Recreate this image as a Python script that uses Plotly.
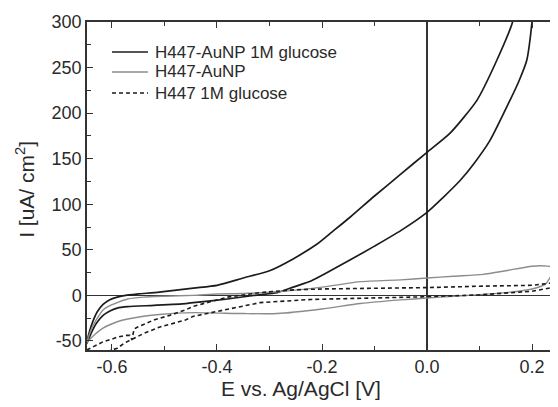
import plotly.graph_objects as go

# --- data (E in V vs Ag/AgCl, I in uA/cm^2) ---
glu_aunp_E = [-0.648, -0.643, -0.636, -0.628, -0.617, -0.605, -0.590, -0.574, -0.550, -0.510,
              -0.445, -0.400, -0.350, -0.300, -0.255, -0.210, -0.180, -0.146, -0.100, -0.050,
              0.000, 0.044, 0.095, 0.133, 0.163, 0.175,
              0.205, 0.200, 0.190, 0.175, 0.158, 0.120, 0.090, 0.063, 0.030, 0.000,
              -0.050, -0.100, -0.146, -0.190, -0.220, -0.255, -0.285, -0.330, -0.380, -0.445,
              -0.460, -0.520, -0.570, -0.590, -0.603, -0.617, -0.630, -0.640, -0.648]
glu_aunp_I = [-53, -40, -28, -18, -10, -5, -2, 0, 1.5, 3.5,
              8, 11, 19, 27, 40, 56, 70, 86, 109, 133,
              157, 178, 214, 258, 300, 340,
              340, 300, 258, 235, 214, 170, 145, 126, 107, 91,
              71, 54, 39, 25, 16, 9, 3, 0, -4, -8,
              -9, -11, -12.5, -14, -17, -22, -31, -42, -53]

aunp_E = [-0.648, -0.640, -0.630, -0.617, -0.603, -0.590, -0.570, -0.540, -0.500, -0.445,
          -0.400, -0.350, -0.285, -0.200, -0.127, -0.050, 0.000, 0.050, 0.107, 0.150,
          0.200, 0.230, 0.244,
          0.235, 0.225, 0.200, 0.150, 0.107, 0.050, 0.000, -0.050, -0.127, -0.200,
          -0.285, -0.350, -0.445, -0.510, -0.540, -0.570, -0.590, -0.603, -0.620, -0.635,
          -0.645, -0.648]
aunp_I = [-52, -38, -27, -16, -11, -8, -4, -2, -1, 0,
          1.5, 2, 4, 9, 15, 17, 19, 21, 23, 27,
          32, 32, 30,
          20, 12, 7, 3, 1, -1, -3, -5, -9, -15,
          -20, -20, -19, -21, -23, -26, -29, -32, -37, -44,
          -50, -52]

glu_E = [-0.648, -0.635, -0.617, -0.600, -0.590, -0.575, -0.566, -0.562, -0.558, -0.552,
         -0.520, -0.490, -0.460, -0.445, -0.407, -0.380, -0.318, -0.255, -0.200, -0.127,
         0.000, 0.100, 0.200, 0.244,
         0.234, 0.200, 0.139, 0.100, 0.000, -0.127, -0.220, -0.318, -0.380, -0.445,
         -0.460, -0.510, -0.540, -0.560, -0.575, -0.590, -0.610]
glu_I = [-60, -56, -51, -48, -46, -44, -44, -49, -37, -35,
         -27, -22, -16, -12, -6, -2, 3, 6, 7, 7.5,
         8.5, 10, 11, 14,
         8, 4.5, 2, 0.5, -1.5, -3, -4.5, -8, -15, -23,
         -27, -35, -42, -48, -52, -58, -62]

series_names = ["H447-AuNP 1M glucose", "H447-AuNP", "H447 1M glucose"]
x_ticks = [-0.6, -0.4, -0.2, 0.0, 0.2]
x_tick_labels = ["-0.6", "-0.4", "-0.2", "0.0", "0.2"]
y_ticks = [-50, 0, 50, 100, 150, 200, 250, 300]
y_tick_labels = ["-50", "0", "50", "100", "150", "200", "250", "300"]

FONT = "Liberation Sans, Arial, sans-serif"
TXT = "#2a2a2a"

styles = [
    dict(color="#1c1c1c", width=1.7, shape="spline", smoothing=0.6),
    dict(color="#8c8c8c", width=1.4, shape="spline", smoothing=0.6),
    dict(color="#1c1c1c", width=1.6, dash="4px,3px", shape="linear"),
]
series = [(glu_aunp_E, glu_aunp_I), (aunp_E, aunp_I), (glu_E, glu_I)]

fig = go.Figure()
for (xs, ys), name, st in zip(series, series_names, styles):
    fig.add_trace(go.Scatter(x=xs, y=ys, mode="lines", name=name, line=st, showlegend=False))

axis_common = dict(showline=True, mirror="ticks", linecolor="#333333", linewidth=1.5,
                   ticks="inside", ticklen=6, tickwidth=1.3, tickcolor="#333333",
                   showgrid=False, zeroline=True, zerolinecolor="#333333",
                   automargin=False,
                   tickfont=dict(family=FONT, size=18, color=TXT))

fig.update_xaxes(range=[-0.6476, 0.2457], tickmode="array", tickvals=x_ticks,
                 ticktext=x_tick_labels, zerolinewidth=1.8,
                 minor=dict(ticks="inside", dtick=0.1, tick0=0, ticklen=4,
                            tickcolor="#333333", tickwidth=1.2),
                 **axis_common)
fig.update_yaxes(range=[-60, 300], tickmode="array", tickvals=y_ticks,
                 ticktext=y_tick_labels, zerolinewidth=1.3,
                 minor=dict(ticks="inside", dtick=25, tick0=0, ticklen=4,
                            tickcolor="#333333", tickwidth=1.2),
                 **axis_common)

# legend (drawn manually to match the compact row spacing of the reference)
leg_rows = [0.9085, 0.8476, 0.7835]
for yy, name, st in zip(leg_rows, series_names, styles):
    fig.add_shape(type="line", xref="paper", yref="paper", x0=0.0533, x1=0.130, y0=yy, y1=yy,
                  line=dict(color=st["color"], width=st["width"], dash=st.get("dash", "solid")))
    fig.add_annotation(text=name, xref="paper", yref="paper", x=0.1407, y=yy,
                       xanchor="left", yanchor="middle", showarrow=False,
                       font=dict(family=FONT, size=17, color=TXT))

fig.add_annotation(text="E vs. Ag/AgCl [V]", xref="paper", yref="paper",
                   x=0.456, y=-0.116, xanchor="center", yanchor="middle", showarrow=False,
                   font=dict(family=FONT, size=21, color=TXT))
fig.add_annotation(text="I [uA/ cm<sup>2</sup>]", xref="paper", yref="paper",
                   x=-0.131, y=0.49, xanchor="center", yanchor="middle", showarrow=False,
                   textangle=-90, font=dict(family=FONT, size=21, color=TXT))

# page body has an 8px default margin; figure is sized so the plot frame lands
# at x 87..556, y 22..350 in the 558x407 window
fig.update_layout(
    width=550, height=399,
    margin=dict(l=79, r=2, t=14, b=57, autoexpand=False),
    paper_bgcolor="white", plot_bgcolor="white",
    showlegend=False,
)

fig.write_html("out.html")
